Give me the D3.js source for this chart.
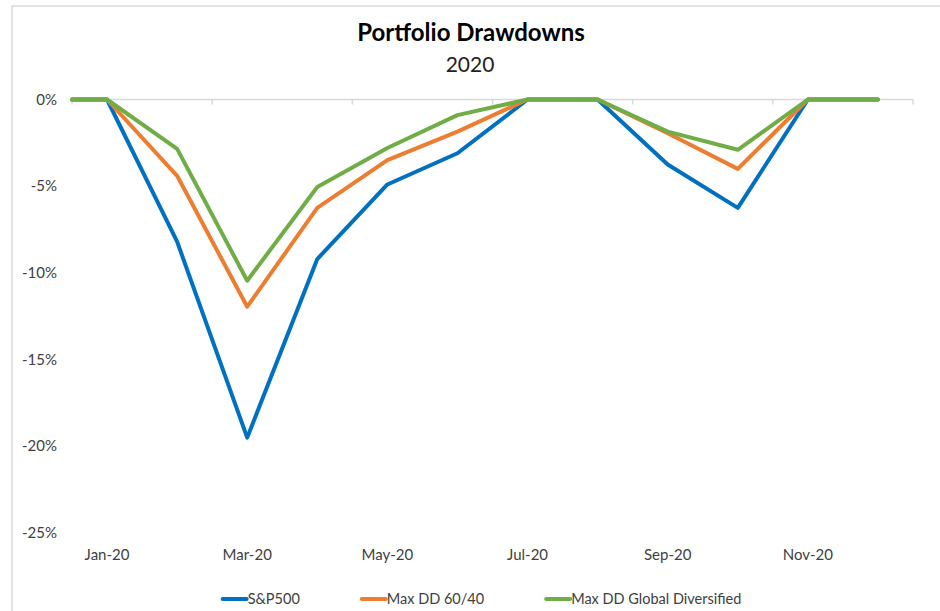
<!DOCTYPE html>
<html>
<head>
<meta charset="utf-8">
<script src="https://cdn.jsdelivr.net/npm/d3@7"></script>
<style>
  body { margin: 0; background: #fff; }
  svg { display: block; font-family: Lato, "Open Sans", sans-serif; }
</style>
</head>
<body>
<svg width="940" height="611"></svg>
<script>
/* data (drawdown in %) */
var periods = ["Start", "Jan-20", "Feb-20", "Mar-20", "Apr-20", "May-20", "Jun-20",
               "Jul-20", "Aug-20", "Sep-20", "Oct-20", "Nov-20", "Dec-20"];
var sp500       = [0, 0, -8.2, -19.5, -9.2, -4.9, -3.1, 0, 0, -3.75, -6.25, 0, 0];
var maxDD6040   = [0, 0, -4.4, -11.95, -6.25, -3.5, -1.85, 0, 0, -1.95, -4.0, 0, 0];
var maxDDGlobal = [0, 0, -2.85, -10.45, -5.05, -2.8, -0.9, 0, 0, -1.85, -2.9, 0, 0];
var tickLabels  = ["Jan-20", "Mar-20", "May-20", "Jul-20", "Sep-20", "Nov-20"];
var yTicks      = [0, -5, -10, -15, -20, -25];

var series = [
  { name: "S&P500", values: sp500, color: "#0070C0" },
  { name: "Max DD 60/40", values: maxDD6040, color: "#ED7D31" },
  { name: "Max DD Global Diversified", values: maxDDGlobal, color: "#70AD47" }
];

var svg = d3.select("svg"),
    width = +svg.attr("width"),
    height = +svg.attr("height");

// chart frame
svg.append("rect")
    .attr("x", 12).attr("y", 6)
    .attr("width", width).attr("height", height)
    .attr("fill", "none")
    .attr("stroke", "#d9d9d9")
    .attr("stroke-width", 1.5);

// title
svg.append("text")
    .attr("x", 471).attr("y", 41)
    .attr("text-anchor", "middle")
    .attr("font-size", 24).attr("font-weight", "bold")
    .attr("fill", "#000")
    .text("Portfolio Drawdowns");
svg.append("text")
    .attr("x", 470).attr("y", 72)
    .attr("text-anchor", "middle")
    .attr("font-size", 21)
    .attr("fill", "#222")
    .text("2020");

// scales: month slots, start point sits on the left edge of Jan slot
var x = d3.scaleLinear().domain([0, 12]).range([72, 913]);
var y = d3.scaleLinear().domain([-25, 0]).range([533, 99.5]);
function xPos(i) { return i === 0 ? x(0) : x(i - 0.5); }

// y labels
svg.append("g")
  .selectAll("text")
  .data(yTicks)
  .enter().append("text")
    .attr("x", 57)
    .attr("y", function(d) { return y(d) + 5; })
    .attr("text-anchor", "end")
    .attr("font-size", 15)
    .attr("fill", "#404040")
    .text(function(d) { return d + "%"; });

// horizontal axis at 0 with tick marks every 2 months
var axis = svg.append("g").attr("class", "x-axis");
axis.append("line")
    .attr("x1", x(0)).attr("x2", x(12))
    .attr("y1", y(0)).attr("y2", y(0))
    .attr("stroke", "#d9d9d9").attr("stroke-width", 1.5);
axis.selectAll("line.tick")
  .data(d3.range(0, 13, 2))
  .enter().append("line")
    .attr("class", "tick")
    .attr("x1", function(d) { return x(d); })
    .attr("x2", function(d) { return x(d); })
    .attr("y1", y(0)).attr("y2", y(0) + 5)
    .attr("stroke", "#d9d9d9").attr("stroke-width", 1.5);

// month labels sit at the bottom of the plot
svg.append("g")
  .selectAll("text")
  .data(tickLabels)
  .enter().append("text")
    .attr("x", function(d) { return xPos(periods.indexOf(d)); })
    .attr("y", 560)
    .attr("text-anchor", "middle")
    .attr("font-size", 15)
    .attr("fill", "#404040")
    .text(function(d) { return d; });

// lines
var line = d3.line()
    .x(function(d, i) { return xPos(i); })
    .y(function(d) { return y(d); });

svg.append("g")
  .selectAll("path")
  .data(series)
  .enter().append("path")
    .attr("d", function(d) { return line(d.values); })
    .attr("fill", "none")
    .attr("stroke", function(d) { return d.color; })
    .attr("stroke-width", 4)
    .attr("stroke-linejoin", "round")
    .attr("stroke-linecap", "round");

// legend, centred under the plot
var legend = svg.append("g");
var items = legend.selectAll("g")
  .data(series)
  .enter().append("g");
items.append("line")
    .attr("x1", 0).attr("x2", 24)
    .attr("y1", 0).attr("y2", 0)
    .attr("stroke", function(d) { return d.color; })
    .attr("stroke-width", 4)
    .attr("stroke-linecap", "round");
items.append("text")
    .attr("x", 25).attr("y", 5)
    .attr("font-size", 14.5)
    .attr("fill", "#404040")
    .text(function(d) { return d.name; });

var gap = 62;
var offset = 0;
items.each(function() {
  var w = this.getBBox().width;
  d3.select(this).attr("transform", "translate(" + offset + ",0)");
  offset += w + gap;
});
var total = offset - gap;
legend.attr("transform", "translate(" + (482 - total / 2) + ",599)");
</script>
</body>
</html>
